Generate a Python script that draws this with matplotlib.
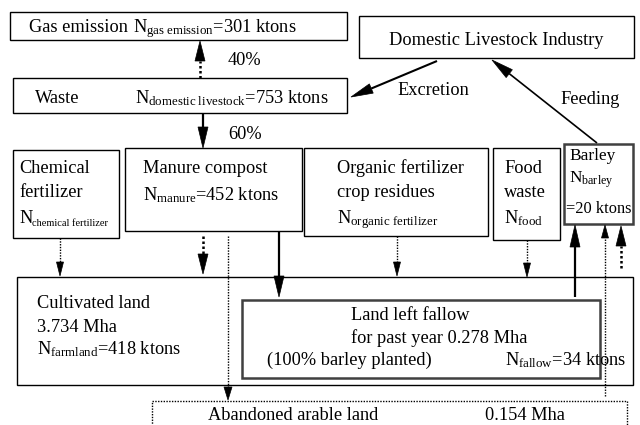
import numpy as np
import matplotlib
matplotlib.use("Agg")
import matplotlib.pyplot as plt
from matplotlib.patches import Polygon, Rectangle

plt.rcParams['font.family'] = ['Liberation Serif', 'DejaVu Serif']
plt.rcParams['mathtext.fontset'] = 'custom'
plt.rcParams['mathtext.rm'] = 'Liberation Serif'
plt.rcParams['mathtext.it'] = 'Liberation Serif:italic'
plt.rcParams['mathtext.bf'] = 'Liberation Serif:bold'

# ---- values (ktons N, Mha, %) ----
gas_emission_kt = 301
domestic_livestock_kt = 753
manure_kt = 452
barley_kt = 20
farmland_kt = 418
fallow_kt = 34
cultivated_mha = 3.734
fallow_mha = 0.278
abandoned_mha = 0.154
share_gas_pct = 40
share_manure_pct = 60

# ---- labels ----
flow_labels = ["Excretion", "Feeding"]
chem_lines = ["Chemical", "fertilizer", "N", "chemical fertilizer"]
organic_lines = ["Organic fertilizer", "crop residues", r"N$_{\mathrm{organic\ fertilizer}}$"]
food_lines = ["Food", "waste", r"N$_{\mathrm{food}}$"]
barley_lines = ["Barley", r"N$_{\mathrm{barley}}$", f"={barley_kt} ktons"]
cultivated_lines = ["Cultivated land", f"{cultivated_mha} Mha",
                    r"N$_{\mathrm{farmland}}$=" + f"{farmland_kt} ktons"]
fallow_lines = ["Land left fallow", f"for past year {fallow_mha} Mha",
                "(100% barley planted)", r"N$_{\mathrm{fallow}}$=" + f"{fallow_kt} ktons"]
abandoned_label = "Abandoned arable land"

FS = 13.2
fig = plt.figure(figsize=(6.4, 4.25), dpi=100)
ax = fig.add_axes([0, 0, 1, 1])
ax.set_xlim(0, 640)
ax.set_ylim(425, 0)
ax.axis('off')

def box(x0, y0, x1, y1, lw=1.0, color='k', ls='-'):
    ax.add_patch(Rectangle((x0, y0), x1 - x0, y1 - y0, fill=False, lw=lw,
                           ec=color, ls=ls, joinstyle='miter'))

def txt(x, y, s, fs=FS, ha='left'):
    ax.text(x, y, s, fontsize=fs, ha=ha, va='baseline', color='k')

def arrow(x0, y0, x1, y1, lw=1.5, ls='-', hl=20, hw=10):
    d = np.array([x1 - x0, y1 - y0], float)
    u = d / np.hypot(*d)
    p = np.array([-u[1], u[0]])
    tip = np.array([x1, y1], float)
    base = tip - u * hl
    ax.plot([x0, base[0]], [y0, base[1]], color='k', lw=lw, ls=ls,
            solid_capstyle='butt', dash_capstyle='butt')
    ax.add_patch(Polygon([tip, base + p * hw / 2, base - p * hw / 2],
                         closed=True, fc='k', ec='k', lw=0.5))

DOT = (0, (1, 1))

# ---- boxes ----
box(10, 12, 347, 40)
box(359, 16, 634, 58)
box(13, 78, 347, 113)
box(13, 150, 119, 238)
box(125, 148, 302, 231)
box(304, 148, 488, 236)
box(493, 148, 560, 240)
box(564, 144, 633, 224, lw=1.8, color='#404040')
box(17, 277, 633, 385)
box(242, 300, 600, 378, lw=1.8, color='#404040')
box(152, 401, 627, 445, lw=1.0, ls=DOT)

# ---- texts ----
txt(29, 32, "Gas emission")
txt(133, 32, r"N$_{\mathrm{gas\ emission}}$=" + f"{gas_emission_kt} ktons")
txt(496, 45, "Domestic Livestock Industry", ha='center')
txt(35, 103, "Waste")
txt(135, 103, r"N$_{\mathrm{domestic\ livestock}}$=" + f"{domestic_livestock_kt} ktons")
txt(228, 65, f"{share_gas_pct}%")
txt(228, 139, f"{share_manure_pct}%")
txt(397, 95, flow_labels[0])
txt(560, 104, flow_labels[1])

txt(19, 173, chem_lines[0])
txt(19, 197, chem_lines[1])
txt(19, 223, chem_lines[2])
txt(32, 226, chem_lines[3], fs=7.5)
txt(143, 173, "Manure compost")
txt(143, 200, r"N$_{\mathrm{manure}}$=" + f"{manure_kt} ktons")
for yy, s in zip([173, 197, 223], organic_lines):
    txt(337, yy, s)
for yy, s in zip([173, 197, 223], food_lines):
    txt(504, yy, s)
txt(569, 160, barley_lines[0], fs=12.4)
txt(569, 183, barley_lines[1], fs=12.4)
txt(566, 213, barley_lines[2], fs=11.8)

for yy, s in zip([308, 332, 354], cultivated_lines):
    txt(37, yy, s)
txt(351, 320, fallow_lines[0])
txt(351, 343, fallow_lines[1])
txt(267, 365, fallow_lines[2])
txt(505, 365, fallow_lines[3])
txt(208, 420, abandoned_label)
txt(485, 420, f"{abandoned_mha} Mha")

# ---- arrows ----
arrow(200, 78, 200, 41, lw=1.8, ls=DOT, hl=20, hw=10)          # 40% to gas
arrow(203, 113, 203, 148, lw=1.6, hl=21, hw=10)                # 60% to manure
arrow(437, 61, 351, 97, lw=1.5, hl=22, hw=10)                  # excretion
arrow(597, 143, 492, 60, lw=1.2, hl=22, hw=10)                 # feeding
arrow(60, 238, 60, 276, lw=1.0, ls=DOT, hl=14, hw=7)           # chemical
arrow(203, 236, 203, 274, lw=1.8, ls=DOT, hl=20, hw=10)        # manure dotted
arrow(228, 236, 228, 400, lw=1.0, ls=DOT, hl=13, hw=8)         # to abandoned
arrow(279, 231, 279, 297, lw=1.6, hl=21, hw=10)                # manure to fallow
arrow(397, 236, 397, 276, lw=1.0, ls=DOT, hl=14, hw=7)         # organic
arrow(527, 240, 527, 277, lw=1.0, ls=DOT, hl=14, hw=7)         # food
arrow(575, 297, 575, 225, lw=1.6, hl=22, hw=10)                # fallow to barley
arrow(605, 396, 605, 225, lw=1.0, ls=DOT, hl=13, hw=7)         # abandoned to barley
arrow(621, 268, 621, 226, lw=1.8, ls=DOT, hl=20, hw=10)        # dotted to barley

fig.savefig("out.png", dpi=100)
